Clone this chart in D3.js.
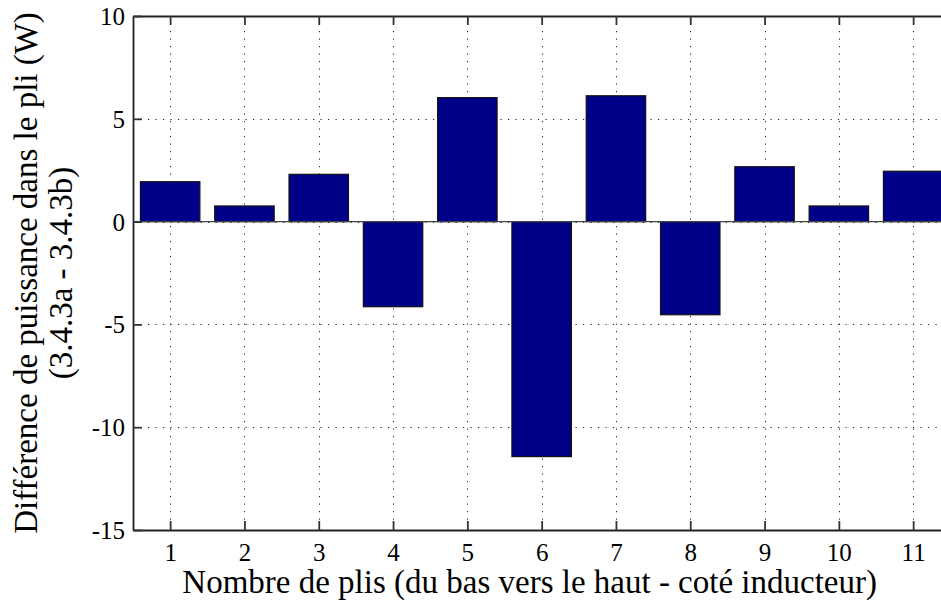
<!DOCTYPE html>
<html>
<head>
<meta charset="utf-8">
<script src="https://cdn.jsdelivr.net/npm/d3@7"></script>
<style>
  html, body { margin: 0; padding: 0; background: #fff; }
  svg { display: block; }
  text { font-family: "Liberation Serif", "Times New Roman", serif; fill: #000; }
</style>
</head>
<body>
<svg id="chart" width="941" height="604"></svg>
<script>
// Ply index along the stack (bottom to top, inductor side)
const plies = [1, 2, 3, 4, 5, 6, 7, 8, 9, 10, 11];
// Power difference per ply, case 3.4.3a minus case 3.4.3b (W)
const powerDiff = [1.94, 0.76, 2.30, -4.14, 6.03, -11.43, 6.12, -4.53, 2.67, 0.76, 2.45];
const yTicks = [-15, -10, -5, 0, 5, 10];
const xTicks = plies;

const xLabel = "Nombre de plis (du bas vers le haut - coté inducteur)";
const yLabelLines = ["Différence de puissance dans le pli (W)", "(3.4.3a - 3.4.3b)"];

const svg = d3.select("#chart");
const plotLeft = 133, plotTop = 16, plotBottom = 530;
const unit = 74.3; // px per ply

const x = d3.scaleLinear().domain([0.5, 11.5]).range([plotLeft, plotLeft + 11 * unit]);
const y = d3.scaleLinear().domain([-15, 10]).range([plotBottom, plotTop]);
const plotRight = x(11.5);

// Dotted grid
const grid = svg.append("g").attr("stroke", "#222").attr("stroke-width", 1)
  .attr("stroke-dasharray", "1.2,6.3");
grid.selectAll("line.v").data(xTicks).join("line")
  .attr("x1", d => Math.round(x(d)) + 0.5).attr("x2", d => Math.round(x(d)) + 0.5)
  .attr("y1", plotTop).attr("y2", plotBottom);
grid.selectAll("line.h").data(yTicks.filter(d => d !== -15 && d !== 10)).join("line")
  .attr("x1", plotLeft).attr("x2", plotRight)
  .attr("y1", d => Math.round(y(d)) + 0.5).attr("y2", d => Math.round(y(d)) + 0.5);

// Bars
const bw = 0.8;
svg.append("g").selectAll("rect").data(plies).join("rect")
  .attr("x", (d) => x(d - bw / 2))
  .attr("width", x(bw) - x(0))
  .attr("y", (d, i) => y(Math.max(0, powerDiff[i])))
  .attr("height", (d, i) => Math.abs(y(powerDiff[i]) - y(0)))
  .attr("fill", "#000088")
  .attr("stroke", "#111")
  .attr("stroke-width", 1.2);

// Zero baseline
svg.append("line")
  .attr("x1", plotLeft).attr("x2", plotRight)
  .attr("y1", y(0)).attr("y2", y(0))
  .attr("stroke", "#444").attr("stroke-width", 1.4);

// Axes with inward ticks; plain hyphen for negative labels
const fmt = d => String(d);
const xAxis = d3.axisBottom(x).tickValues(xTicks).tickFormat(fmt).tickSizeInner(-9).tickSizeOuter(0).tickPadding(14);
const gx = svg.append("g").attr("transform", `translate(0,${plotBottom})`).call(xAxis);
const xAxisTop = d3.axisTop(x).tickValues(xTicks).tickSizeInner(-9).tickSizeOuter(0).tickFormat("");
const gxt = svg.append("g").attr("transform", `translate(0,${plotTop})`).call(xAxisTop);
const yAxis = d3.axisLeft(y).tickValues(yTicks).tickFormat(fmt).tickSizeInner(-9).tickSizeOuter(0).tickPadding(8);
const gy = svg.append("g").attr("transform", `translate(${plotLeft},0)`).call(yAxis);

[gx, gxt, gy].forEach(g => {
  g.attr("font-family", null);
  g.select(".domain").attr("stroke", "#222").attr("stroke-width", 1.8);
  g.selectAll(".tick line").attr("stroke", "#333").attr("stroke-width", 1.8);
  g.selectAll(".tick text").attr("font-size", 25).attr("fill", "#000");
});
gx.selectAll(".tick text").attr("dy", "0.71em").attr("y", 13);
gy.selectAll(".tick text").attr("x", -8).attr("dy", "0.34em");

// Axis titles
svg.append("text")
  .attr("x", (plotLeft + plotRight) / 2 - 12).attr("y", 593)
  .attr("text-anchor", "middle").attr("font-size", 33)
  .text(xLabel);

const yl = svg.append("text")
  .attr("transform", `translate(0,${(plotTop + plotBottom) / 2}) rotate(-90)`)
  .attr("text-anchor", "middle").attr("font-size", 33);
yLabelLines.forEach((t, i) => {
  yl.append("tspan").attr("x", 0).attr("y", 37 + i * 35).text(t);
});
</script>
</body>
</html>
